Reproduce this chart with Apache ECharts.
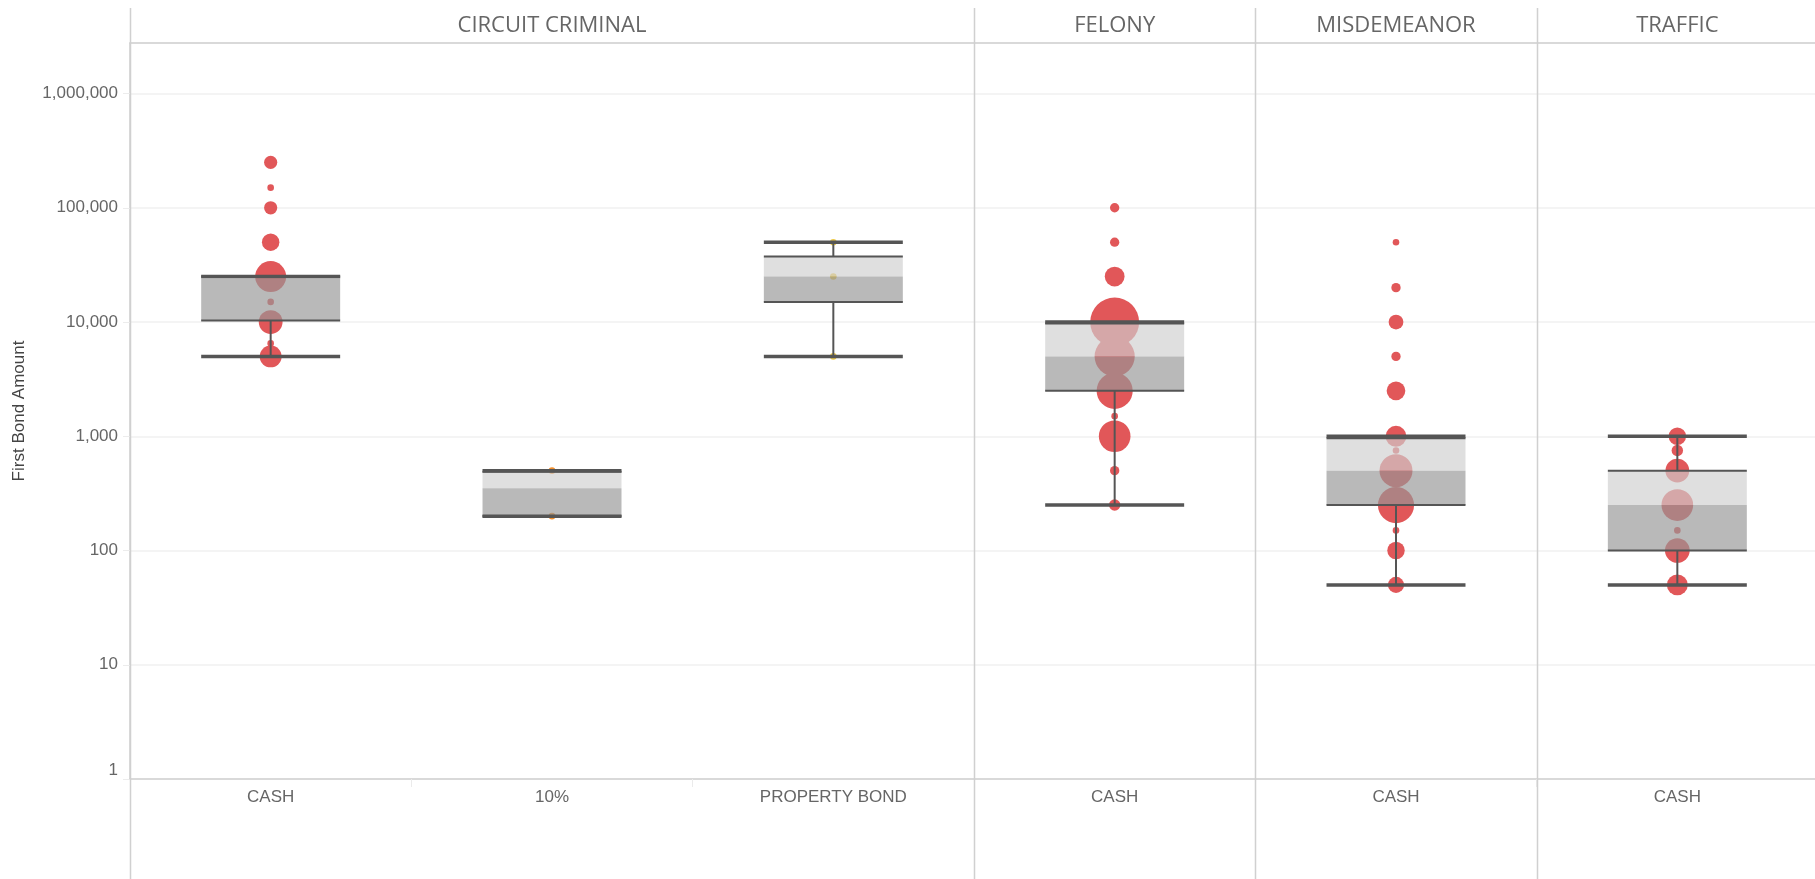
<!DOCTYPE html>
<html>
<head>
<meta charset="utf-8">
<script src="https://cdn.jsdelivr.net/npm/echarts@6/dist/echarts.min.js"></script>
<style>
html,body{margin:0;padding:0;background:#fff;}
#chart{width:1815px;height:879px;}
</style>
</head>
<body>
<div id="chart"></div>
<script>
// ---- data ----
const panels = ['CIRCUIT CRIMINAL', 'CIRCUIT CRIMINAL', 'CIRCUIT CRIMINAL', 'FELONY', 'MISDEMEANOR', 'TRAFFIC'];
const bondTypes = ['CASH', '10%', 'PROPERTY BOND', 'CASH', 'CASH', 'CASH'];
const yTickValues = [1, 10, 100, 1000, 10000, 100000, 1000000];

// box plot statistics per column
const whiskerLow  = [5000, 200, 5000, 250, 50, 50];
const quartile1   = [10300, 200, 15000, 2500, 250, 100];
const medians     = [24000, 350, 25000, 5000, 500, 250];
const quartile3   = [25000, 490, 37500, 9700, 960, 500];
const whiskerHigh = [25000, 500, 50000, 10000, 1000, 1000];

// bond amounts and number of cases (circle size)
const circuitCashAmounts = [250000, 150000, 100000, 50000, 25000, 15000, 10000, 6500, 5000];
const circuitCashCounts  = [4, 1, 4, 7, 22, 1, 13, 1, 11];
const circuit10Amounts   = [500, 200];
const circuit10Counts    = [1, 1];
const circuitPropAmounts = [50000, 25000, 5000];
const circuitPropCounts  = [1, 1, 1];
const felonyAmounts      = [100000, 50000, 25000, 10000, 5000, 2500, 1500, 1000, 500, 250];
const felonyCounts       = [2, 2, 9, 55, 37, 30, 1, 23, 2, 3];
const misdAmounts        = [50000, 20000, 10000, 5000, 2500, 1000, 750, 500, 250, 150, 100, 50];
const misdCounts         = [1, 2, 5, 2, 8, 10, 1, 25, 30, 1, 7, 6];
const trafficAmounts     = [1000, 750, 500, 250, 150, 100, 50];
const trafficCounts      = [7, 3, 13, 23, 1, 14, 10];

// ---- build ----
const pointAmounts = [circuitCashAmounts, circuit10Amounts, circuitPropAmounts, felonyAmounts, misdAmounts, trafficAmounts];
const pointCounts = [circuitCashCounts, circuit10Counts, circuitPropCounts, felonyCounts, misdCounts, trafficCounts];
const categories = panels.map((p, i) => p + '|' + bondTypes[i]);
const bondColor = { 'CASH': '#e15759', '10%': '#f28e2b', 'PROPERTY BOND': '#edc948' };

const points = [];
pointAmounts.forEach((arr, col) => {
  arr.forEach((v, k) => points.push([col, v, pointCounts[col][k]]));
});
const boxes = categories.map((c, i) => [i, whiskerLow[i], quartile1[i], medians[i], quartile3[i], whiskerHigh[i]]);

const groupCenter = {};
const boundaries = [0];
panels.forEach((p, i) => {
  if (i > 0 && panels[i - 1] !== p) boundaries.push(i);
});
panels.forEach((p, i) => {
  const idx = panels.map((q, j) => q === p ? j : -1).filter(j => j >= 0);
  groupCenter[i] = idx[Math.floor(idx.length / 2)] === i;
});

function fmtNum(v) {
  return String(Math.round(v)).replace(/\B(?=(\d{3})+(?!\d))/g, ',');
}

const labelFont = "'Liberation Sans', Arial, sans-serif";

const chart = echarts.init(document.getElementById('chart'), null, { renderer: 'canvas' });

const option = {
  animation: false,
  backgroundColor: '#ffffff',
  grid: { left: 130, top: 43, width: 1688, height: 736, containLabel: false, outerBoundsMode: 'none' },
  xAxis: [
    {
      type: 'category',
      data: categories,
      position: 'bottom',
      boundaryGap: true,
      axisLine: { show: true, lineStyle: { color: '#cfcfcf', width: 1.5 } },
      axisTick: { show: true, interval: 0, length: 8, lineStyle: { color: '#ebebeb', width: 1 } },
      axisLabel: {
        interval: 0, margin: 10, color: '#666666', fontSize: 17, fontFamily: labelFont,
        formatter: (v) => v.split('|')[1]
      },
      splitLine: { show: false }
    },
    {
      type: 'category',
      data: categories,
      position: 'top',
      boundaryGap: true,
      axisLine: { show: true, lineStyle: { color: '#cfcfcf', width: 1.5 } },
      axisTick: { show: false },
      axisLabel: {
        interval: 0, margin: 6, color: '#666666', fontSize: 22, fontFamily: "'Open Sans', sans-serif",
        formatter: (v, i) => groupCenter[i] ? v.split('|')[0] : ''
      },
      splitLine: { show: false }
    }
  ],
  yAxis: {
    type: 'log',
    logBase: 10,
    min: yTickValues[0],
    max: 2770000,
    name: 'First Bond Amount',
    nameLocation: 'middle',
    nameGap: 102,
    nameMoveOverlap: false,
    nameTextStyle: { color: '#444444', fontSize: 17, fontFamily: labelFont },
    axisLine: { show: true, lineStyle: { color: '#cfcfcf', width: 1.5 } },
    axisTick: { show: true, length: 7, lineStyle: { color: '#ececec' } },
    axisLabel: {
      margin: 12, color: '#666666', fontSize: 17, fontFamily: labelFont,
      showMaxLabel: false,
      verticalAlignMinLabel: 'bottom',
      formatter: (v) => yTickValues.some(t => Math.abs(Math.log10(t) - Math.log10(v)) < 1e-6) ? fmtNum(v) : ''
    },
    splitLine: { show: true, lineStyle: { color: '#f0f0f0', width: 1.5 } }
  },
  series: [
    {
      type: 'custom',
      name: 'dividers',
      z: 1,
      silent: true,
      clip: false,
      data: boundaries.map(b => [b, 1]),
      encode: { x: 0, y: 1 },
      renderItem: (params, api) => {
        const c = api.coord([api.value(0), 1]);
        const w = api.size([1, 0])[0];
        const x = Math.round(c[0] - w / 2) + 0.5;
        return {
          type: 'line',
          shape: { x1: x, y1: 8, x2: x, y2: api.getHeight() },
          style: { stroke: '#d0d0d0', lineWidth: 1.5 }
        };
      }
    },
    {
      type: 'scatter',
      name: 'cases',
      z: 2,
      data: points,
      symbolSize: (val) => 6.6 * Math.sqrt(val[2]),
      itemStyle: {
        opacity: 1,
        color: (p) => bondColor[bondTypes[p.value[0]]]
      }
    },
    {
      type: 'custom',
      name: 'box',
      z: 3,
      data: boxes,
      encode: { x: 0, y: [1, 2, 3, 4, 5] },
      renderItem: (params, api) => {
        const xi = api.value(0);
        const bw = api.size([1, 0])[0] * 0.494;
        const pLow = api.coord([xi, api.value(1)]);
        const pQ1 = api.coord([xi, api.value(2)]);
        const pMed = api.coord([xi, api.value(3)]);
        const pQ3 = api.coord([xi, api.value(4)]);
        const pHigh = api.coord([xi, api.value(5)]);
        const cx = pLow[0];
        const l = cx - bw / 2, r = cx + bw / 2;
        const dark = '#555555';
        const hl = (y, w) => ({ type: 'line', shape: { x1: l, y1: y, x2: r, y2: y }, style: { stroke: dark, lineWidth: w } });
        const vl = (y1, y2) => ({ type: 'line', shape: { x1: cx, y1: y1, x2: cx, y2: y2 }, style: { stroke: dark, lineWidth: 2 } });
        return {
          type: 'group',
          children: [
            { type: 'rect', shape: { x: l, y: pQ3[1], width: bw, height: pMed[1] - pQ3[1] }, style: { fill: 'rgba(208,208,208,0.67)' } },
            { type: 'rect', shape: { x: l, y: pMed[1], width: bw, height: pQ1[1] - pMed[1] }, style: { fill: 'rgba(151,151,151,0.67)' } },
            vl(pQ3[1], pHigh[1]),
            vl(pQ1[1], pLow[1]),
            hl(pQ3[1], 2),
            hl(pQ1[1], 2),
            hl(pHigh[1], 3.5),
            hl(pLow[1], 3.5)
          ]
        };
      }
    }
  ]
};
chart.setOption(option);
</script>
</body>
</html>
